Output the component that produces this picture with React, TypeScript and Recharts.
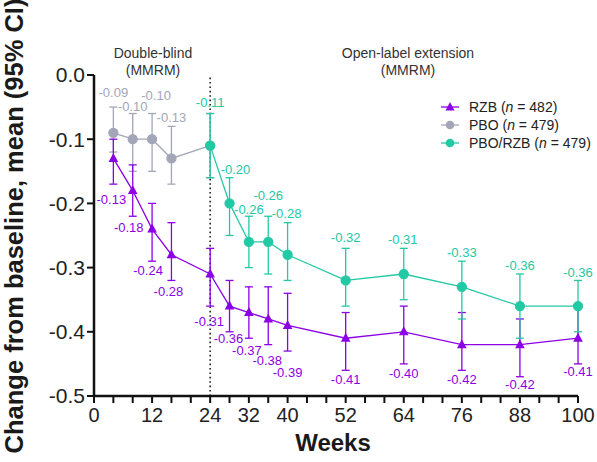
import React from 'react';
import { LineChart, Line, XAxis, YAxis, ErrorBar, ReferenceLine, LabelList } from 'recharts';

// weeks, mean change and 95% CI bounds
const rzbWeeks = [4, 8, 12, 16, 24, 28, 32, 36, 40, 52, 64, 76, 88, 100];
const rzbMean = [-0.13, -0.18, -0.24, -0.28, -0.31, -0.36, -0.37, -0.38, -0.39, -0.41, -0.4, -0.42, -0.42, -0.41];
const rzbLow = [-0.17, -0.22, -0.29, -0.32, -0.36, -0.4, -0.41, -0.42, -0.43, -0.46, -0.45, -0.46, -0.47, -0.45];
const rzbHigh = [-0.1, -0.14, -0.2, -0.23, -0.27, -0.32, -0.33, -0.33, -0.34, -0.37, -0.36, -0.37, -0.38, -0.36];

const pboWeeks = [4, 8, 12, 16, 24];
const pboMean = [-0.09, -0.1, -0.1, -0.13, -0.11];
const pboLow = [-0.12, -0.15, -0.15, -0.17, -0.16];
const pboHigh = [-0.05, -0.06, -0.06, -0.08, -0.06];

const swWeeks = [24, 28, 32, 36, 40, 52, 64, 76, 88, 100];
const swMean = [-0.11, -0.2, -0.26, -0.26, -0.28, -0.32, -0.31, -0.33, -0.36, -0.36];
const swLow = [-0.16, -0.25, -0.3, -0.31, -0.32, -0.36, -0.35, -0.38, -0.41, -0.4];
const swHigh = [-0.06, -0.16, -0.22, -0.22, -0.23, -0.27, -0.27, -0.29, -0.31, -0.32];

const xTicks = [0, 4, 8, 12, 16, 20, 24, 28, 32, 36, 40, 44, 48, 52, 56, 60, 64, 68, 72, 76, 80, 84, 88, 92, 96, 100];
const xTickLabels = [0, 12, 24, 32, 40, 52, 64, 76, 88, 100];
const yTicks = [0, -0.1, -0.2, -0.3, -0.4, -0.5];

const PURPLE = '#8C00E6';
const GRAY = '#A3A6B8';
const TEAL = '#22C9A4';
const FONT = '"Liberation Sans", Arial, sans-serif';

const makeRows = (weeks: number[], mean: number[], low: number[], high: number[]) =>
  weeks.map((w, i) => ({
    week: w,
    mean: mean[i],
    lo: low[i],
    hi: high[i],
    err: [mean[i] - low[i], high[i] - mean[i]],
  }));

const rzbRows = makeRows(rzbWeeks, rzbMean, rzbLow, rzbHigh);
const pboRows = makeRows(pboWeeks, pboMean, pboLow, pboHigh);
const swRows = makeRows(swWeeks, swMean, swLow, swHigh);

// hand placement of the value labels (px from the CI end)
const rzbLabelDy = [15, 11, 9, 11, 15, 7, 12, 16, 21, 9, 10, 9, 8, 8];
const rzbLabelDx = [-2, -4, -4, -3, -1, -1, -2, -1, 0, 0, 0, 0, 0, 0];
const pboLabelDy = [-15, -7, -18, -9];
const pboLabelDx = [0, 0, 4, 0];
const swLabelDy = [-11, -8, -7, -21, -9, -11, -9, -9, -9, -8];
const swLabelDx = [0, 6, 0, 0, -1, 0, -1, 0, 0, 0];

const valueLabel = (means: number[], dxs: number[], dys: number[], color: string) => (props: any) => {
  const { x, y, index } = props;
  if (index >= dys.length) return null;
  return (
    <text
      key={index}
      x={x + dxs[index]}
      y={y + dys[index]}
      textAnchor="middle"
      dominantBaseline="central"
      fontSize={13}
      fontFamily={FONT}
      fill={color}
    >
      {means[index].toFixed(2)}
    </text>
  );
};

const Triangle = (props: any) => {
  const { cx, cy, index } = props;
  if (cx == null || cy == null) return null;
  return (
    <path
      key={index}
      d={`M${cx},${cy - 5.5} L${cx + 4.8},${cy + 3.5} L${cx - 4.8},${cy + 3.5} Z`}
      fill={PURPLE}
    />
  );
};

const legendItems = [
  { name: 'RZB', n: 482, color: PURPLE, shape: 'triangle' },
  { name: 'PBO', n: 479, color: GRAY, shape: 'circle' },
  { name: 'PBO/RZB', n: 479, color: TEAL, shape: 'circle' },
];

const App: React.FC = () => {
  return (
    <div style={{ position: 'absolute', left: 0, top: 0, width: 597, height: 462, background: '#fff' }}>
      <LineChart width={597} height={462} margin={{ top: 75, right: 19, left: 34, bottom: 36 }}>
        <XAxis
          type="number"
          dataKey="week"
          domain={[0, 100]}
          ticks={xTicks}
          interval={0}
          allowDuplicatedCategory={false}
          tickFormatter={(v: number) => (xTickLabels.includes(v) ? String(v) : '')}
          height={30}
          tickSize={7}
          tickMargin={5}
          tick={{ fill: '#222', fontSize: 20, fontFamily: FONT }}
          axisLine={{ stroke: '#111', strokeWidth: 2.5 }}
          tickLine={{ stroke: '#111', strokeWidth: 2 }}
        />
        <YAxis
          type="number"
          domain={[-0.5, 0]}
          ticks={yTicks}
          interval={0}
          allowDataOverflow
          tickFormatter={(v: number) => v.toFixed(1)}
          width={60}
          tickSize={7}
          tickMargin={2}
          tick={{ fill: '#222', fontSize: 21, fontFamily: FONT }}
          axisLine={{ stroke: '#111', strokeWidth: 2.5 }}
          tickLine={{ stroke: '#111', strokeWidth: 2 }}
        />
        <ReferenceLine x={24} stroke="#222" strokeWidth={1.6} strokeDasharray="1.6 2.8" />

        <Line
          data={pboRows}
          dataKey="mean"
          stroke={GRAY}
          strokeWidth={1.3}
          dot={{ r: 4.5, fill: GRAY, stroke: GRAY }}
          activeDot={false}
          isAnimationActive={false}
        >
          <ErrorBar dataKey="err" direction="y" width={4} stroke={GRAY} strokeWidth={1.3} />
        </Line>
        <Line
          data={rzbRows}
          dataKey="mean"
          stroke={PURPLE}
          strokeWidth={1.3}
          dot={<Triangle />}
          activeDot={false}
          isAnimationActive={false}
        >
          <ErrorBar dataKey="err" direction="y" width={4} stroke={PURPLE} strokeWidth={1.3} />
        </Line>
        <Line
          data={swRows}
          dataKey="mean"
          stroke={TEAL}
          strokeWidth={1.3}
          dot={{ r: 4.5, fill: TEAL, stroke: TEAL }}
          activeDot={false}
          isAnimationActive={false}
        >
          <ErrorBar dataKey="err" direction="y" width={4} stroke={TEAL} strokeWidth={1.3} />
        </Line>

        {/* invisible lines on the CI ends carry the value labels */}
        <Line data={rzbRows} dataKey="lo" stroke="none" dot={false} activeDot={false} legendType="none" isAnimationActive={false}>
          <LabelList dataKey="lo" content={valueLabel(rzbMean, rzbLabelDx, rzbLabelDy, PURPLE)} />
        </Line>
        <Line data={pboRows} dataKey="hi" stroke="none" dot={false} activeDot={false} legendType="none" isAnimationActive={false}>
          <LabelList dataKey="hi" content={valueLabel(pboMean, pboLabelDx, pboLabelDy, GRAY)} />
        </Line>
        <Line data={swRows} dataKey="hi" stroke="none" dot={false} activeDot={false} legendType="none" isAnimationActive={false}>
          <LabelList dataKey="hi" content={valueLabel(swMean, swLabelDx, swLabelDy, TEAL)} />
        </Line>
      </LineChart>

      <svg
        width={597}
        height={462}
        style={{ position: 'absolute', left: 0, top: 0, pointerEvents: 'none' }}
        fontFamily={FONT}
      >
        <text
          transform="rotate(-90)"
          x={-226}
          y={14}
          textAnchor="middle"
          dominantBaseline="central"
          fontSize={25.5}
          fontWeight="bold"
          fill="#1a1a1a"
        >
          Change from baseline, mean (95% CI)
        </text>
        <text x={333} y={442} textAnchor="middle" dominantBaseline="central" fontSize={24} fontWeight="bold" fill="#1a1a1a">
          Weeks
        </text>

        <text x={153} y={53} textAnchor="middle" dominantBaseline="central" fontSize={14} fill="#333">
          Double-blind
        </text>
        <text x={153} y={70} textAnchor="middle" dominantBaseline="central" fontSize={14} fill="#333">
          (MMRM)
        </text>
        <text x={408} y={53} textAnchor="middle" dominantBaseline="central" fontSize={14} fill="#333">
          Open-label extension
        </text>
        <text x={408} y={70} textAnchor="middle" dominantBaseline="central" fontSize={14} fill="#333">
          (MMRM)
        </text>

        {legendItems.map((item, i) => {
          const y = 107 + i * 18;
          return (
            <g key={item.name}>
              <line x1={441} x2={459} y1={y} y2={y} stroke={item.color} strokeWidth={1.3} />
              {item.shape === 'triangle' ? (
                <path d={`M450,${y - 5} L454.5,${y + 3.5} L445.5,${y + 3.5} Z`} fill={item.color} />
              ) : (
                <circle cx={450} cy={y} r={4.3} fill={item.color} />
              )}
              <text x={469} y={y} dominantBaseline="central" fontSize={14} fill="#222">
                {item.name} (<tspan fontStyle="italic">n</tspan> = {item.n})
              </text>
            </g>
          );
        })}
      </svg>
    </div>
  );
};

export default App;
